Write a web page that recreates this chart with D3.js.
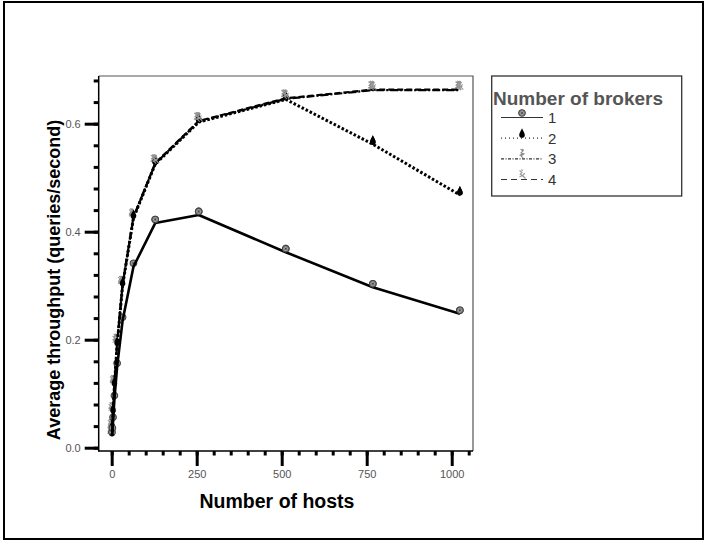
<!DOCTYPE html>
<html><head><meta charset="utf-8">
<script src="https://cdn.jsdelivr.net/npm/d3@7"></script>
<style>body{margin:0;background:#fff}svg{display:block}</style>
</head><body>
<script>
const hosts = [1, 2, 4, 8, 16, 32, 64, 128, 256, 512, 768, 1024];
const brokers1 = [0.022, 0.030, 0.050, 0.090, 0.150, 0.235, 0.335, 0.416, 0.431, 0.362, 0.297, 0.248];
const brokers2 = [0.022, 0.035, 0.065, 0.115, 0.190, 0.300, 0.425, 0.525, 0.603, 0.645, 0.562, 0.468];
const brokers3 = [0.024, 0.037, 0.068, 0.118, 0.195, 0.302, 0.427, 0.526, 0.604, 0.646, 0.662, 0.662];
const brokers4 = [0.023, 0.036, 0.066, 0.117, 0.192, 0.301, 0.426, 0.527, 0.605, 0.647, 0.663, 0.663];
const seriesNames = ["1", "2", "3", "4"];
const xTicks = [0, 250, 500, 750, 1000];
const yTicks = [0.0, 0.2, 0.4, 0.6];
const xTitle = "Number of hosts";
const yTitle = "Average throughput (queries/second)";
const legendTitle = "Number of brokers";

const W = 706, H = 542;
const FONT = "Liberation Sans, Arial, Helvetica, sans-serif";
const svg = d3.select("body").append("svg").attr("width", W).attr("height", H);
svg.append("rect").attr("x", 4).attr("y", 2).attr("width", 699).attr("height", 537)
  .attr("fill", "none").attr("stroke", "#000").attr("stroke-width", 2);

const L = 98.7, R = 473, T = 76, B = 451;
const x = d3.scaleLinear().domain([-38.2, 1062.6]).range([L, R]);
const y = d3.scaleLinear().domain([-0.0061, 0.6883]).range([B, T]);

// plot frame (top/right)
svg.append("path").attr("d", `M${L},${T}H${R}V${B}`).attr("fill", "none")
  .attr("stroke", "#555").attr("stroke-width", 1.2);

// x axis
const xAxisG = svg.append("g").attr("transform", `translate(0,${B})`);
xAxisG.call(d3.axisBottom(x).tickValues(d3.range(0, 1051, 50)).tickSize(4.5).tickFormat(""));
xAxisG.call(g => g.select(".domain").remove());
xAxisG.selectAll(".tick line").attr("stroke", "#000").attr("stroke-width", 3);
const xMaj = svg.append("g").attr("transform", `translate(0,${B})`)
  .call(d3.axisBottom(x).tickValues(xTicks).tickSize(15).tickPadding(4).tickFormat(d3.format("d")));
xMaj.select(".domain").remove();
xMaj.selectAll(".tick line").attr("stroke", "#000").attr("stroke-width", 3);
xMaj.selectAll(".tick text").attr("fill", "#555").attr("font-size", 11).attr("font-family", FONT);

// y axis
const yMin = svg.append("g").attr("transform", `translate(${L},0)`)
  .call(d3.axisLeft(y).tickValues(d3.range(0, 0.69, 0.04)).tickSize(5).tickFormat(""));
yMin.select(".domain").remove();
yMin.selectAll(".tick line").attr("stroke", "#000").attr("stroke-width", 3);
const yMaj = svg.append("g").attr("transform", `translate(${L},0)`)
  .call(d3.axisLeft(y).tickValues(yTicks).tickSize(14).tickPadding(4).tickFormat(d3.format(".1f")));
yMaj.select(".domain").remove();
yMaj.selectAll(".tick line").attr("stroke", "#000").attr("stroke-width", 3);
yMaj.selectAll(".tick text").attr("fill", "#555").attr("font-size", 11).attr("font-family", FONT);

// axis lines
svg.append("line").attr("x1", L).attr("x2", L).attr("y1", T).attr("y2", B + 0.7)
  .attr("stroke", "#000").attr("stroke-width", 1.5);
svg.append("line").attr("x1", L).attr("x2", R).attr("y1", B).attr("y2", B)
  .attr("stroke", "#000").attr("stroke-width", 1.5);

// titles
svg.append("text").attr("x", 277).attr("y", 508).attr("text-anchor", "middle")
  .attr("font-family", FONT).attr("font-weight", "bold")
  .attr("font-size", 19.5).text(xTitle);
svg.append("text").attr("transform", "translate(60,280) rotate(-90)").attr("text-anchor", "middle")
  .attr("font-family", FONT).attr("font-weight", "bold")
  .attr("font-size", 18).text(yTitle);

// markers
function drawMarker(g, k) {
  if (k === 0) {
    g.append("circle").attr("r", 3.3).attr("fill", "#888").attr("stroke", "#444").attr("stroke-width", 1.1);
    g.append("path").attr("d", "M-2.3,0H2.3M0,-2.3V2.3").attr("stroke", "#bbb").attr("stroke-width", 0.6);
    g.append("circle").attr("r", 1).attr("fill", "#444");
  } else if (k === 1) {
    g.append("path").attr("d", "M0,-5.5C1.2,-2.5 2.8,-1 2.8,1.3A2.8,2.8 0 1 1 -2.8,1.3C-2.8,-1 -1.2,-2.5 0,-5.5Z")
      .attr("fill", "#000");
  } else if (k === 2) {
    g.append("path").attr("d", "M-1.5,-5L1,-3.5L-1,-1.5L1.5,0L-1,1.5L1,3.5M-2.5,1L2.5,-0.8M0,-5L1.8,-4.2")
      .attr("fill", "none").attr("stroke", "#8a8a8a").attr("stroke-width", 1.1);
  } else {
    g.append("path").attr("d", "M-2.5,-4.5L0,-2.5L-1.8,-0.8L1,1L3.5,3.5M-2.5,2L1,0L2.8,-1.8M-1,-5.2L1,-4.4")
      .attr("fill", "none").attr("stroke", "#9a9a9a").attr("stroke-width", 1.1);
  }
}

const allSeries = [brokers1, brokers2, brokers3, brokers4];
const lineStyles = [
  {w: 2.6, dash: null},
  {w: 3, dash: "2.5,2"},
  {w: 2.2, dash: "8,2,2,2"},
  {w: 2.2, dash: "6,3"}
];
const line = d3.line().x((d, i) => x(hosts[i])).y(d => y(d));

// markers first (lines drawn over them in the dense region)
[3, 2, 1, 0].forEach(k => {
  allSeries[k].forEach((v, i) => {
    const g = svg.append("g").attr("transform", `translate(${x(hosts[i]) + (k >= 2 ? -2 : 0)},${y(v) - 3.5})`);
    drawMarker(g, k);
  });
});
[3, 2, 1, 0].forEach(k => {
  svg.append("path").datum(allSeries[k]).attr("d", line).attr("fill", "none")
    .attr("stroke", "#000").attr("stroke-width", lineStyles[k].w)
    .attr("stroke-dasharray", lineStyles[k].dash).attr("stroke-linejoin", "round");
});
// redraw markers at the high-host points for visibility
[1, 2, 3, 0].forEach(k => {
  allSeries[k].forEach((v, i) => {
    if (hosts[i] < 128) return;
    const g = svg.append("g").attr("transform", `translate(${x(hosts[i])},${y(v) - 3.5})`);
    drawMarker(g, k);
  });
});

// legend
const lg = svg.append("g");
lg.append("rect").attr("x", 491.7).attr("y", 76).attr("width", 190).attr("height", 120)
  .attr("fill", "#fff").attr("stroke", "#333").attr("stroke-width", 1.3);
lg.append("text").attr("x", 493).attr("y", 105).attr("fill", "#555")
  .attr("font-family", FONT).attr("font-weight", "bold")
  .attr("font-size", 19).text(legendTitle);
const legDash = [null, "1,3", "3,1.5,1,1.5", "6,4"];
const legY = d3.scalePoint().domain(seriesNames).range([117.5, 179.5]);
seriesNames.forEach((name, k) => {
  const yy = legY(name);
  lg.append("line").attr("x1", 501).attr("x2", 543).attr("y1", yy).attr("y2", yy)
    .attr("stroke", "#333").attr("stroke-width", 1.2).attr("stroke-dasharray", legDash[k]);
  const g = lg.append("g").attr("transform", `translate(522,${yy - 4.5})`);
  drawMarker(g, k);
  lg.append("text").attr("x", 548).attr("y", yy + 5.5).attr("fill", "#333")
    .attr("font-family", FONT).attr("font-size", 15).text(name);
});
</script>
</body></html>
